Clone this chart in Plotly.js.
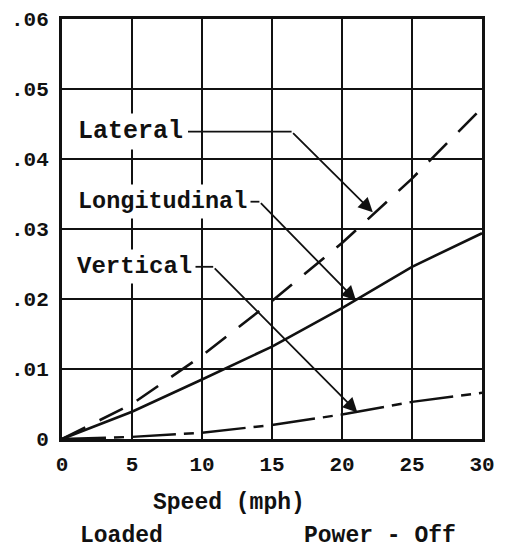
<!DOCTYPE html>
<html>
<head>
<meta charset="utf-8">
<script src="https://cdn.plot.ly/plotly-3.0.1.min.js"></script>
<style>html,body{margin:0;padding:0;background:#fff;}#chart{width:507px;height:549px;}</style>
</head>
<body>
<div id="chart"></div>
<script>
// Data
const speed = [0, 5, 10, 15, 20, 25, 30];
const lateral = [0, 0.005, 0.0119, 0.0197, 0.028, 0.0372, 0.0473];
const longitudinal = [0, 0.0039, 0.0085, 0.0132, 0.0187, 0.0246, 0.0294];
const vertical = [0, 0.0003, 0.0009, 0.002, 0.0035, 0.0053, 0.0066];

const xTicks = [0, 5, 10, 15, 20, 25, 30];
const yTickVals = [0, 0.01, 0.02, 0.03, 0.04, 0.05, 0.06];
const yTickText = ['0', '.01', '.02', '.03', '.04', '.05', '.06'];

const seriesNames = ['Lateral', 'Longitudinal', 'Vertical'];
const xTitle = 'Speed (mph)';
const noteLeft = 'Loaded';
const noteRight = 'Power - Off';

const FONT = '"Liberation Mono", "DejaVu Sans Mono", monospace';
const INK = '#111';

const traces = [
  {x: speed, y: lateral, name: seriesNames[0], mode: 'lines',
   line: {color: INK, width: 2.6, dash: '26px,16px'}},
  {x: speed, y: longitudinal, name: seriesNames[1], mode: 'lines',
   line: {color: INK, width: 2.6}},
  {x: speed, y: vertical, name: seriesNames[2], mode: 'lines',
   line: {color: INK, width: 2.4, dash: '44px,8px,10px,8px'}}
];

// label placement (data coords) : text anchor, bend of leader, arrow tip
const labelPos = [
  {tx: 0.85, ty: 0.0439, size: 25, hx0: 9.0, hx1: 16.4, tipx: 22.2, tipy: 0.0324},
  {tx: 0.85, ty: 0.0339, size: 23.5, hx0: 13.3, hx1: 14.1, tipx: 21.0, tipy: 0.0198},
  {tx: 0.8, ty: 0.0246, size: 24, hx0: 9.4, hx1: 10.8, tipx: 21.1, tipy: 0.0038}
];

const annotations = [];
const shapes = [];
labelPos.forEach((p, i) => {
  annotations.push({x: p.tx, y: p.ty, xref: 'x', yref: 'y', text: seriesNames[i],
    showarrow: false, xanchor: 'left', yanchor: 'middle', bgcolor: '#fff', borderpad: 3,
    font: {family: FONT, size: p.size, color: INK, weight: 'bold'}});
  shapes.push({type: 'line', xref: 'x', yref: 'y', x0: p.hx0, x1: p.hx1, y0: p.ty, y1: p.ty,
    line: {color: INK, width: 1.8}});
  annotations.push({x: p.tipx, y: p.tipy, xref: 'x', yref: 'y', axref: 'x', ayref: 'y',
    ax: p.hx1, ay: p.ty, text: '', showarrow: true, arrowhead: 2, arrowsize: 1.6,
    arrowwidth: 1.8, arrowcolor: INK, standoff: 0});
});

annotations.push({x: 229, y: 503, text: xTitle, showarrow: false,
  font: {family: FONT, size: 23, color: INK, weight: 'bold'}});
annotations.push({x: 121, y: 536, text: noteLeft, showarrow: false,
  font: {family: FONT, size: 23, color: INK, weight: 'bold'}});
annotations.push({x: 380, y: 536, text: noteRight, showarrow: false,
  font: {family: FONT, size: 23, color: INK, weight: 'bold'}});

// convert pixel-placed footer annotations to paper coords
const W = 507, H = 549, L = 62, R = 25, T = 19, B = 110;
annotations.slice(-3).forEach(a => {
  a.xref = 'paper'; a.yref = 'paper';
  a.x = (a.x - L) / (W - L - R);
  a.y = (H - B - a.y) / (H - T - B);
  a.xanchor = 'center'; a.yanchor = 'middle';
});

const layout = {
  width: W, height: H,
  margin: {l: L, r: R, t: T, b: B, pad: 0},
  paper_bgcolor: '#fff', plot_bgcolor: '#fff',
  showlegend: false,
  font: {family: FONT, color: INK},
  xaxis: {range: [0, 30], tickvals: xTicks, ticks: 'outside', ticklen: 4, tickcolor: 'rgba(0,0,0,0)',
    showgrid: true, gridcolor: INK, gridwidth: 2.4,
    zeroline: false, showline: true, linecolor: INK, linewidth: 3, mirror: true,
    tickfont: {family: FONT, size: 21, color: INK, weight: 'bold'}},
  yaxis: {range: [0, 0.06], tickvals: yTickVals, ticktext: yTickText, ticks: 'outside', ticklen: 6,
    tickcolor: 'rgba(0,0,0,0)', showgrid: true,
    gridcolor: INK, gridwidth: 2.4, zeroline: false, showline: true, linecolor: INK, linewidth: 3,
    mirror: true, tickfont: {family: FONT, size: 21, color: INK, weight: 'bold'}},
  annotations: annotations,
  shapes: shapes
};

Plotly.newPlot('chart', traces, layout, {staticPlot: true, displayModeBar: false});
</script>
</body>
</html>
